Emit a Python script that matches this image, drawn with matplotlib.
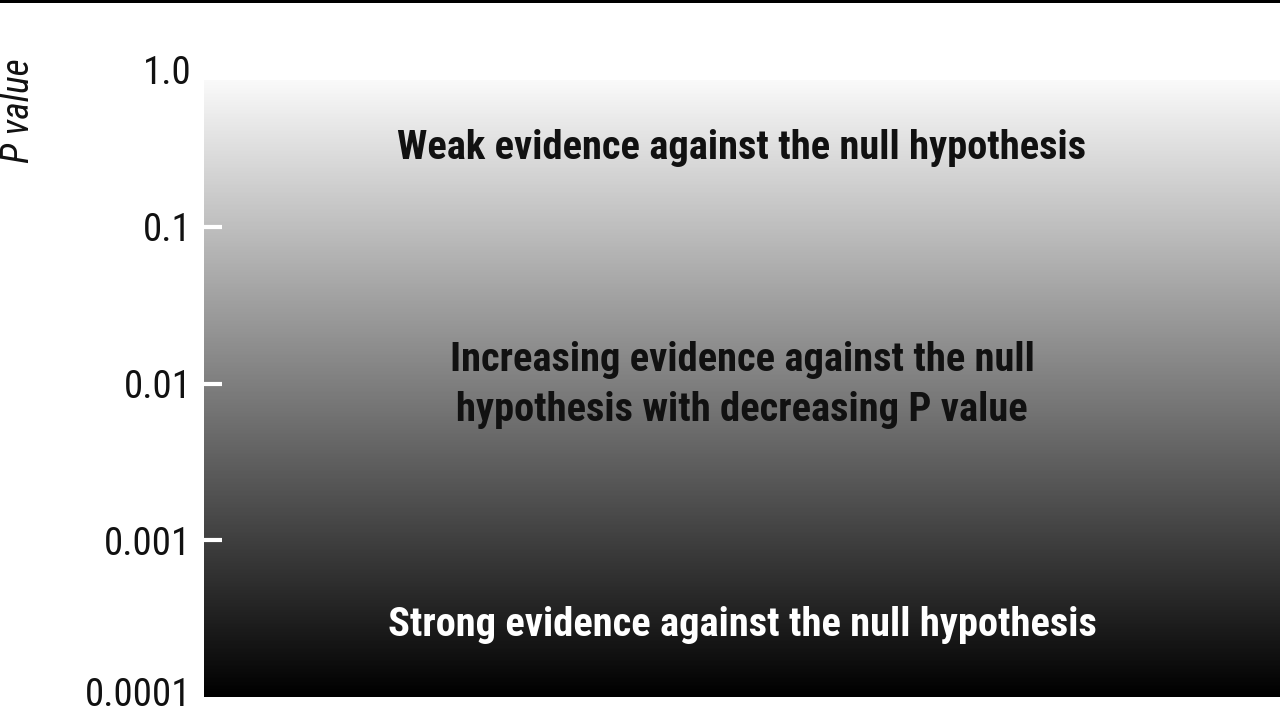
import numpy as np
import matplotlib
matplotlib.use("Agg")
import matplotlib.pyplot as plt
import matplotlib.transforms as mtrans
from matplotlib import font_manager
from matplotlib.patches import Rectangle

# ---- data ----
tick_values = [1.0, 0.1, 0.01, 0.001, 0.0001]
tick_labels = ["1.0", "0.1", "0.01", "0.001", "0.0001"]
zone_texts = [
    "Weak evidence against the null hypothesis",
    "Increasing evidence against the null\nhypothesis with decreasing P value",
    "Strong evidence against the null hypothesis",
]
zone_pvalues = [0.32, 0.0098, 0.00029]
zone_colors = ["#111111", "#111111", "#ffffff"]
gradient_top = 0.86
gradient_bottom = 0.0001

# ---- font selection: prefer a condensed sans ----
names = {f.name for f in font_manager.fontManager.ttflist}
cond = None
for cand in ["Liberation Sans Narrow", "DejaVu Sans Condensed", "Roboto Condensed",
             "Open Sans Condensed", "Noto Sans Condensed"]:
    if cand in names:
        cond = cand
        break
stretch = "normal"
if cond is None:
    cond = "DejaVu Sans"
    stretch = "condensed"
family = [cond, "DejaVu Sans"]

fig = plt.figure(figsize=(12.8, 7.13), dpi=100)
ax = fig.add_axes([204 / 1280, 1 - 697 / 713, 1 - 204 / 1280, (697 - 70) / 713])
ax.set_yscale("log")
ax.set_ylim(1e-4, 1.0)
ax.set_xlim(0, 1)

# gradient (log-linear from near-white to black)
yedges = np.logspace(np.log10(gradient_top), np.log10(gradient_bottom), 400)
xedges = np.array([0.0, 1.0])
shade = np.linspace(0.975, 0.0, len(yedges) - 1).reshape(-1, 1)
ax.pcolormesh(xedges, yedges, shade, cmap="gray", vmin=0, vmax=1, shading="flat",
              rasterized=True, zorder=0)

for s in ax.spines.values():
    s.set_visible(False)

ax.set_xticks([])
ax.set_yticks(tick_values)
ax.set_yticklabels(tick_labels)
ax.yaxis.set_minor_locator(matplotlib.ticker.NullLocator())
ax.tick_params(axis="y", direction="in", length=13, width=3, color="white", pad=9,
               labelsize=28)
for lab in ax.get_yticklabels():
    lab.set_family(family)
    lab.set_stretch(stretch)
    lab.set_color("#111111")
# end ticks are not drawn in the reference
major = ax.yaxis.get_major_ticks()
for t in major:
    if t.get_loc() in (1.0, 0.0001):
        t.tick1line.set_visible(False)
    if t.get_loc() == 0.0001:
        # nudge the bottom label up a little so it stays inside the canvas
        t.label1.set_transform(t.label1.get_transform() +
                               mtrans.ScaledTranslation(0, 4 / 72, fig.dpi_scale_trans))

ax.set_ylabel("P value", fontsize=27, style="italic", family=family, stretch=stretch,
              color="#111111", va="center", ha="center")
ax.yaxis.set_label_coords(-0.1725, 0.935)

for txt, p, c in zip(zone_texts, zone_pvalues, zone_colors):
    ax.text(0.5, p, txt, ha="center", va="center", fontsize=29.2, fontweight="bold",
            family=family, stretch=stretch, color=c, linespacing=1.4, zorder=3)

# top rule
fig.add_artist(Rectangle((0, 1 - 3 / 713), 1, 3 / 713, transform=fig.transFigure,
                         color="black", lw=0))

fig.savefig("out.png", dpi=100)
